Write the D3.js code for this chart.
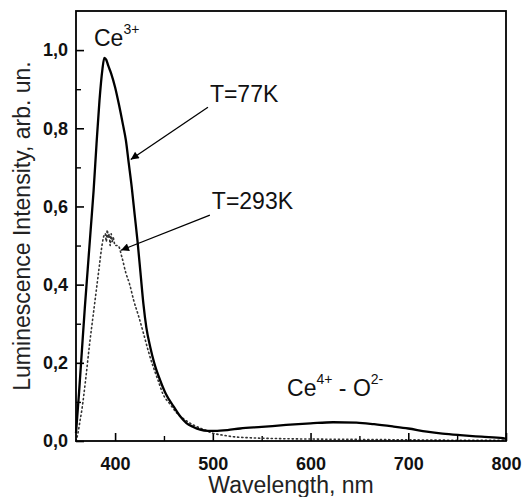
<!DOCTYPE html>
<html>
<head>
<meta charset="utf-8">
<script src="https://cdn.jsdelivr.net/npm/d3@7"></script>
<style>
    body { margin: 0; background: #fff; }
    svg { font-family: "Liberation Sans", Arial, sans-serif; }
</style>
</head>
<body>
<div id="chart"></div>
<script>
// Wavelength (nm) and intensity for the 77 K spectrum (solid line)
const wl77 = [360, 363, 366, 369, 372, 375, 378, 381, 384, 387, 389, 391, 393, 396, 400, 404, 408, 411, 414, 417, 420, 423, 426, 429, 432, 436, 440, 446, 452, 460, 467, 473, 480, 487, 495, 502, 515, 528, 550, 575, 600, 623, 647, 665, 685, 700, 719, 735, 753, 775, 797, 800];
const int77 = [0.02, 0.12, 0.23, 0.34, 0.44, 0.54, 0.64, 0.76, 0.87, 0.95, 0.98, 0.975, 0.96, 0.94, 0.905, 0.86, 0.81, 0.77, 0.71, 0.65, 0.58, 0.51, 0.43, 0.35, 0.29, 0.24, 0.2, 0.156, 0.12, 0.088, 0.062, 0.046, 0.036, 0.029, 0.026, 0.026, 0.028, 0.032, 0.036, 0.041, 0.045, 0.048, 0.047, 0.043, 0.037, 0.032, 0.024, 0.019, 0.015, 0.011, 0.007, 0.006];

// 293 K spectrum (dotted line)
const wl293 = [360, 362, 364, 366, 370, 374, 378, 381, 384, 386, 388, 390, 391, 392, 393, 394, 395, 396, 397, 398, 400, 403, 407, 411, 415, 419, 424, 429, 434, 439, 444, 449, 456, 463, 471, 480, 490, 500, 510, 521, 540, 570, 600, 650, 700, 750, 800];
const int293 = [0.0, 0.02, 0.05, 0.08, 0.16, 0.25, 0.33, 0.39, 0.45, 0.49, 0.52, 0.53, 0.51, 0.54, 0.52, 0.53, 0.5, 0.53, 0.51, 0.52, 0.5, 0.5, 0.47, 0.43, 0.4, 0.36, 0.32, 0.276, 0.23, 0.19, 0.155, 0.12, 0.095, 0.072, 0.055, 0.041, 0.03, 0.02, 0.015, 0.011, 0.008, 0.006, 0.005, 0.004, 0.003, 0.002, 0.002];

const xTicks = [400, 500, 600, 700, 800];
const xMinor = [450, 550, 650, 750];
const yTicks = [0, 0.2, 0.4, 0.6, 0.8, 1.0];
const yMinor = [0.1, 0.3, 0.5, 0.7, 0.9];

const width = 522, height = 497;
const margin = { top: 11, right: 16, bottom: 56, left: 76 };

const svg = d3.select("#chart")
    .append("svg")
    .attr("width", width)
    .attr("height", height);

const x = d3.scaleLinear().domain([360, 800]).range([margin.left, width - margin.right]);
const y = d3.scaleLinear().domain([0, 1.1]).range([height - margin.bottom, margin.top]);

const fmt = (d) => d3.format(".1f")(d).replace(".", ",");

// Bottom axis, ticks pointing inward
svg.append("g")
    .attr("transform", `translate(0,${height - margin.bottom})`)
    .call(d3.axisBottom(x).tickValues(xTicks).tickSize(-8).tickPadding(16).tickSizeOuter(0))
    .call((g) => g.select(".domain").remove())
    .call((g) => g.selectAll("line").attr("stroke", "#000").attr("stroke-width", 1.6))
    .call((g) => g.selectAll("text")
        .attr("font-size", "18px").attr("font-weight", "bold").attr("fill", "#111"));

svg.append("g")
    .attr("transform", `translate(0,${height - margin.bottom})`)
    .call(d3.axisBottom(x).tickValues(xMinor).tickSize(-5).tickFormat(""))
    .call((g) => g.select(".domain").remove())
    .call((g) => g.selectAll("line").attr("stroke", "#000").attr("stroke-width", 1.4));

// Left axis
svg.append("g")
    .attr("transform", `translate(${margin.left},0)`)
    .call(d3.axisLeft(y).tickValues(yTicks).tickSize(-8).tickPadding(8).tickFormat(fmt))
    .call((g) => g.select(".domain").remove())
    .call((g) => g.selectAll("line").attr("stroke", "#000").attr("stroke-width", 1.6))
    .call((g) => g.selectAll("text")
        .attr("font-size", "18px").attr("font-weight", "bold").attr("fill", "#111"));

svg.append("g")
    .attr("transform", `translate(${margin.left},0)`)
    .call(d3.axisLeft(y).tickValues(yMinor).tickSize(-5).tickFormat(""))
    .call((g) => g.select(".domain").remove())
    .call((g) => g.selectAll("line").attr("stroke", "#000").attr("stroke-width", 1.4));

// Curves
const line = d3.line().x((d) => x(d[0])).y((d) => y(d[1])).curve(d3.curveMonotoneX);

svg.append("path")
    .datum(d3.zip(wl293, int293))
    .attr("fill", "none")
    .attr("stroke", "#333")
    .attr("stroke-width", 1.6)
    .attr("stroke-dasharray", "1.2,3")
    .attr("stroke-linecap", "round")
    .attr("d", line);

svg.append("path")
    .datum(d3.zip(wl77, int77))
    .attr("fill", "none")
    .attr("stroke", "#000")
    .attr("stroke-width", 2.3)
    .attr("stroke-linejoin", "round")
    .attr("d", line);

// Frame
svg.append("rect")
    .attr("x", margin.left)
    .attr("y", margin.top)
    .attr("width", width - margin.left - margin.right)
    .attr("height", height - margin.top - margin.bottom)
    .attr("fill", "none")
    .attr("stroke", "#000")
    .attr("stroke-width", 1.8);

// Axis labels
svg.append("text")
    .attr("x", (margin.left + width - margin.right) / 2)
    .attr("y", height - 4)
    .attr("text-anchor", "middle")
    .attr("font-size", "23px")
    .attr("fill", "#222")
    .text("Wavelength, nm");

svg.append("text")
    .attr("transform", `translate(30,${(margin.top + height - margin.bottom) / 2}) rotate(-90)`)
    .attr("text-anchor", "middle")
    .attr("font-size", "23px")
    .attr("fill", "#222")
    .text("Luminescence Intensity, arb. un.");

// Annotations (data coordinates)
const labelAt = (nm, v, parts) => {
    const t = svg.append("text")
        .attr("x", x(nm))
        .attr("y", y(v))
        .attr("font-size", "23px")
        .attr("fill", "#111");
    parts.forEach((p) => {
        const s = t.append("tspan").text(p.t);
        if (p.sup) s.attr("font-size", "14px").attr("dy", "-12");
        if (p.down) s.attr("dy", "12");
    });
};

labelAt(378.4, 1.01, [{ t: "Ce" }, { t: "3+", sup: true }]);
labelAt(497, 0.868, [{ t: "T=77K" }]);
labelAt(499, 0.593, [{ t: "T=293K" }]);
labelAt(576, 0.115, [{ t: "Ce" }, { t: "4+", sup: true }, { t: " - O", down: true }, { t: "2-", sup: true }]);

// Arrows
svg.append("defs").append("marker")
    .attr("id", "head")
    .attr("viewBox", "0 0 10 10")
    .attr("refX", 10)
    .attr("refY", 5)
    .attr("markerWidth", 12)
    .attr("markerHeight", 8)
    .attr("markerUnits", "userSpaceOnUse")
    .attr("orient", "auto")
    .append("path")
    .attr("d", "M0,0 L10,5 L0,10 z")
    .attr("fill", "#000");

const arrows = [
    { from: [495, 0.854], to: [416, 0.72] },
    { from: [497, 0.578], to: [406, 0.488] }
];

svg.selectAll(".arrow")
    .data(arrows)
    .join("line")
    .attr("class", "arrow")
    .attr("x1", (d) => x(d.from[0]))
    .attr("y1", (d) => y(d.from[1]))
    .attr("x2", (d) => x(d.to[0]))
    .attr("y2", (d) => y(d.to[1]))
    .attr("stroke", "#000")
    .attr("stroke-width", 1.3)
    .attr("marker-end", "url(#head)");
</script>
</body>
</html>
